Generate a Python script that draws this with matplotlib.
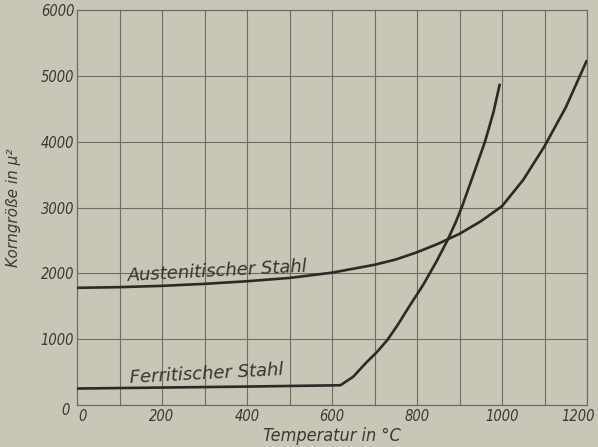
import matplotlib
matplotlib.use("Agg")
import matplotlib.pyplot as plt
import matplotlib.transforms as mtrans

# Data
aust_T = [0, 100, 200, 300, 400, 500, 600, 700, 750, 800, 850, 900, 950, 1000, 1050, 1100, 1150, 1200]
aust_G = [1780, 1790, 1810, 1840, 1880, 1930, 2010, 2130, 2210, 2320, 2450, 2600, 2790, 3020, 3420, 3930, 4520, 5240]

ferr_T = [0, 200, 400, 620, 650, 680, 705, 730, 755, 780, 800, 815, 845, 870, 890, 906, 930, 960, 980, 995]
ferr_G = [250, 265, 280, 300, 430, 640, 800, 985, 1220, 1480, 1680, 1830, 2170, 2480, 2760, 3015, 3450, 4000, 4450, 4880]

x_ticks = [0, 200, 400, 600, 800, 1000, 1200]
x_ticklabels = ["0", "200", "400", "600", "800", "1000", "1200"]
y_ticks = [1000, 2000, 3000, 4000, 5000, 6000]
y_ticklabels = ["1000", "2000", "3000", "4000", "5000", "6000"]

bg = "#c8c6b7"
ink = "#2b2a26"
gridc = "#6e6c63"
txtc = "#3a3934"

fam = "DejaVu Sans"

fig = plt.figure(figsize=(5.98, 4.47), dpi=100, facecolor=bg)
ax = fig.add_axes([77/598, 1-405/447, (587-77)/598, (405-10)/447])
ax.set_facecolor(bg)
ax.set_xlim(0, 1200)
ax.set_ylim(0, 6000)

for v in range(100, 1200, 100):
    ax.axvline(v, color=gridc, lw=0.8, zorder=1)
for v in range(1000, 6000, 1000):
    ax.axhline(v, color=gridc, lw=0.8, zorder=1)
for s in ax.spines.values():
    s.set_color(gridc)
    s.set_linewidth(0.9)

ax.plot(aust_T, aust_G, color=ink, lw=1.9, zorder=3, solid_capstyle="butt")
ax.plot(ferr_T, ferr_G, color=ink, lw=1.9, zorder=3, solid_capstyle="butt")

tkw = dict(family=fam, stretch="condensed", style="italic", fontsize=10.5, color=txtc)
ax.set_xticks(x_ticks)
ax.set_xticklabels(x_ticklabels, **tkw)
labs = ax.get_xticklabels()
labs[0].set_ha("left")
ax.set_yticks(y_ticks)
ax.set_yticklabels(y_ticklabels, **tkw)
ax.tick_params(length=0, pad=3)
ax.tick_params(axis="y", pad=2)
ax.text(-16, -80, "0", ha="right", va="center", **tkw)
labs[-1].set_transform(labs[-1].get_transform() + mtrans.ScaledTranslation(-9/100, 0, fig.dpi_scale_trans))
labs[0].set_transform(labs[0].get_transform() + mtrans.ScaledTranslation(1/100, 0, fig.dpi_scale_trans))

ax.set_xlabel("Temperatur in °C", family=fam, stretch="condensed", style="italic", fontsize=13, color=txtc, labelpad=2)
ax.set_ylabel("Korngröße in μ²", family=fam, style="italic", fontsize=11, color=txtc, labelpad=14)

ax.text(120, 1880, "Austenitischer Stahl", family=fam, style="italic", fontsize=13,
        color="#35342f", rotation=3, rotation_mode="anchor", ha="left", va="baseline", zorder=4)
ax.text(125, 330, "Ferritischer Stahl", family=fam, style="italic", fontsize=13,
        color="#35342f", rotation=3, rotation_mode="anchor", ha="left", va="baseline", zorder=4)

fig.savefig("out.png", dpi=100, facecolor=bg)
